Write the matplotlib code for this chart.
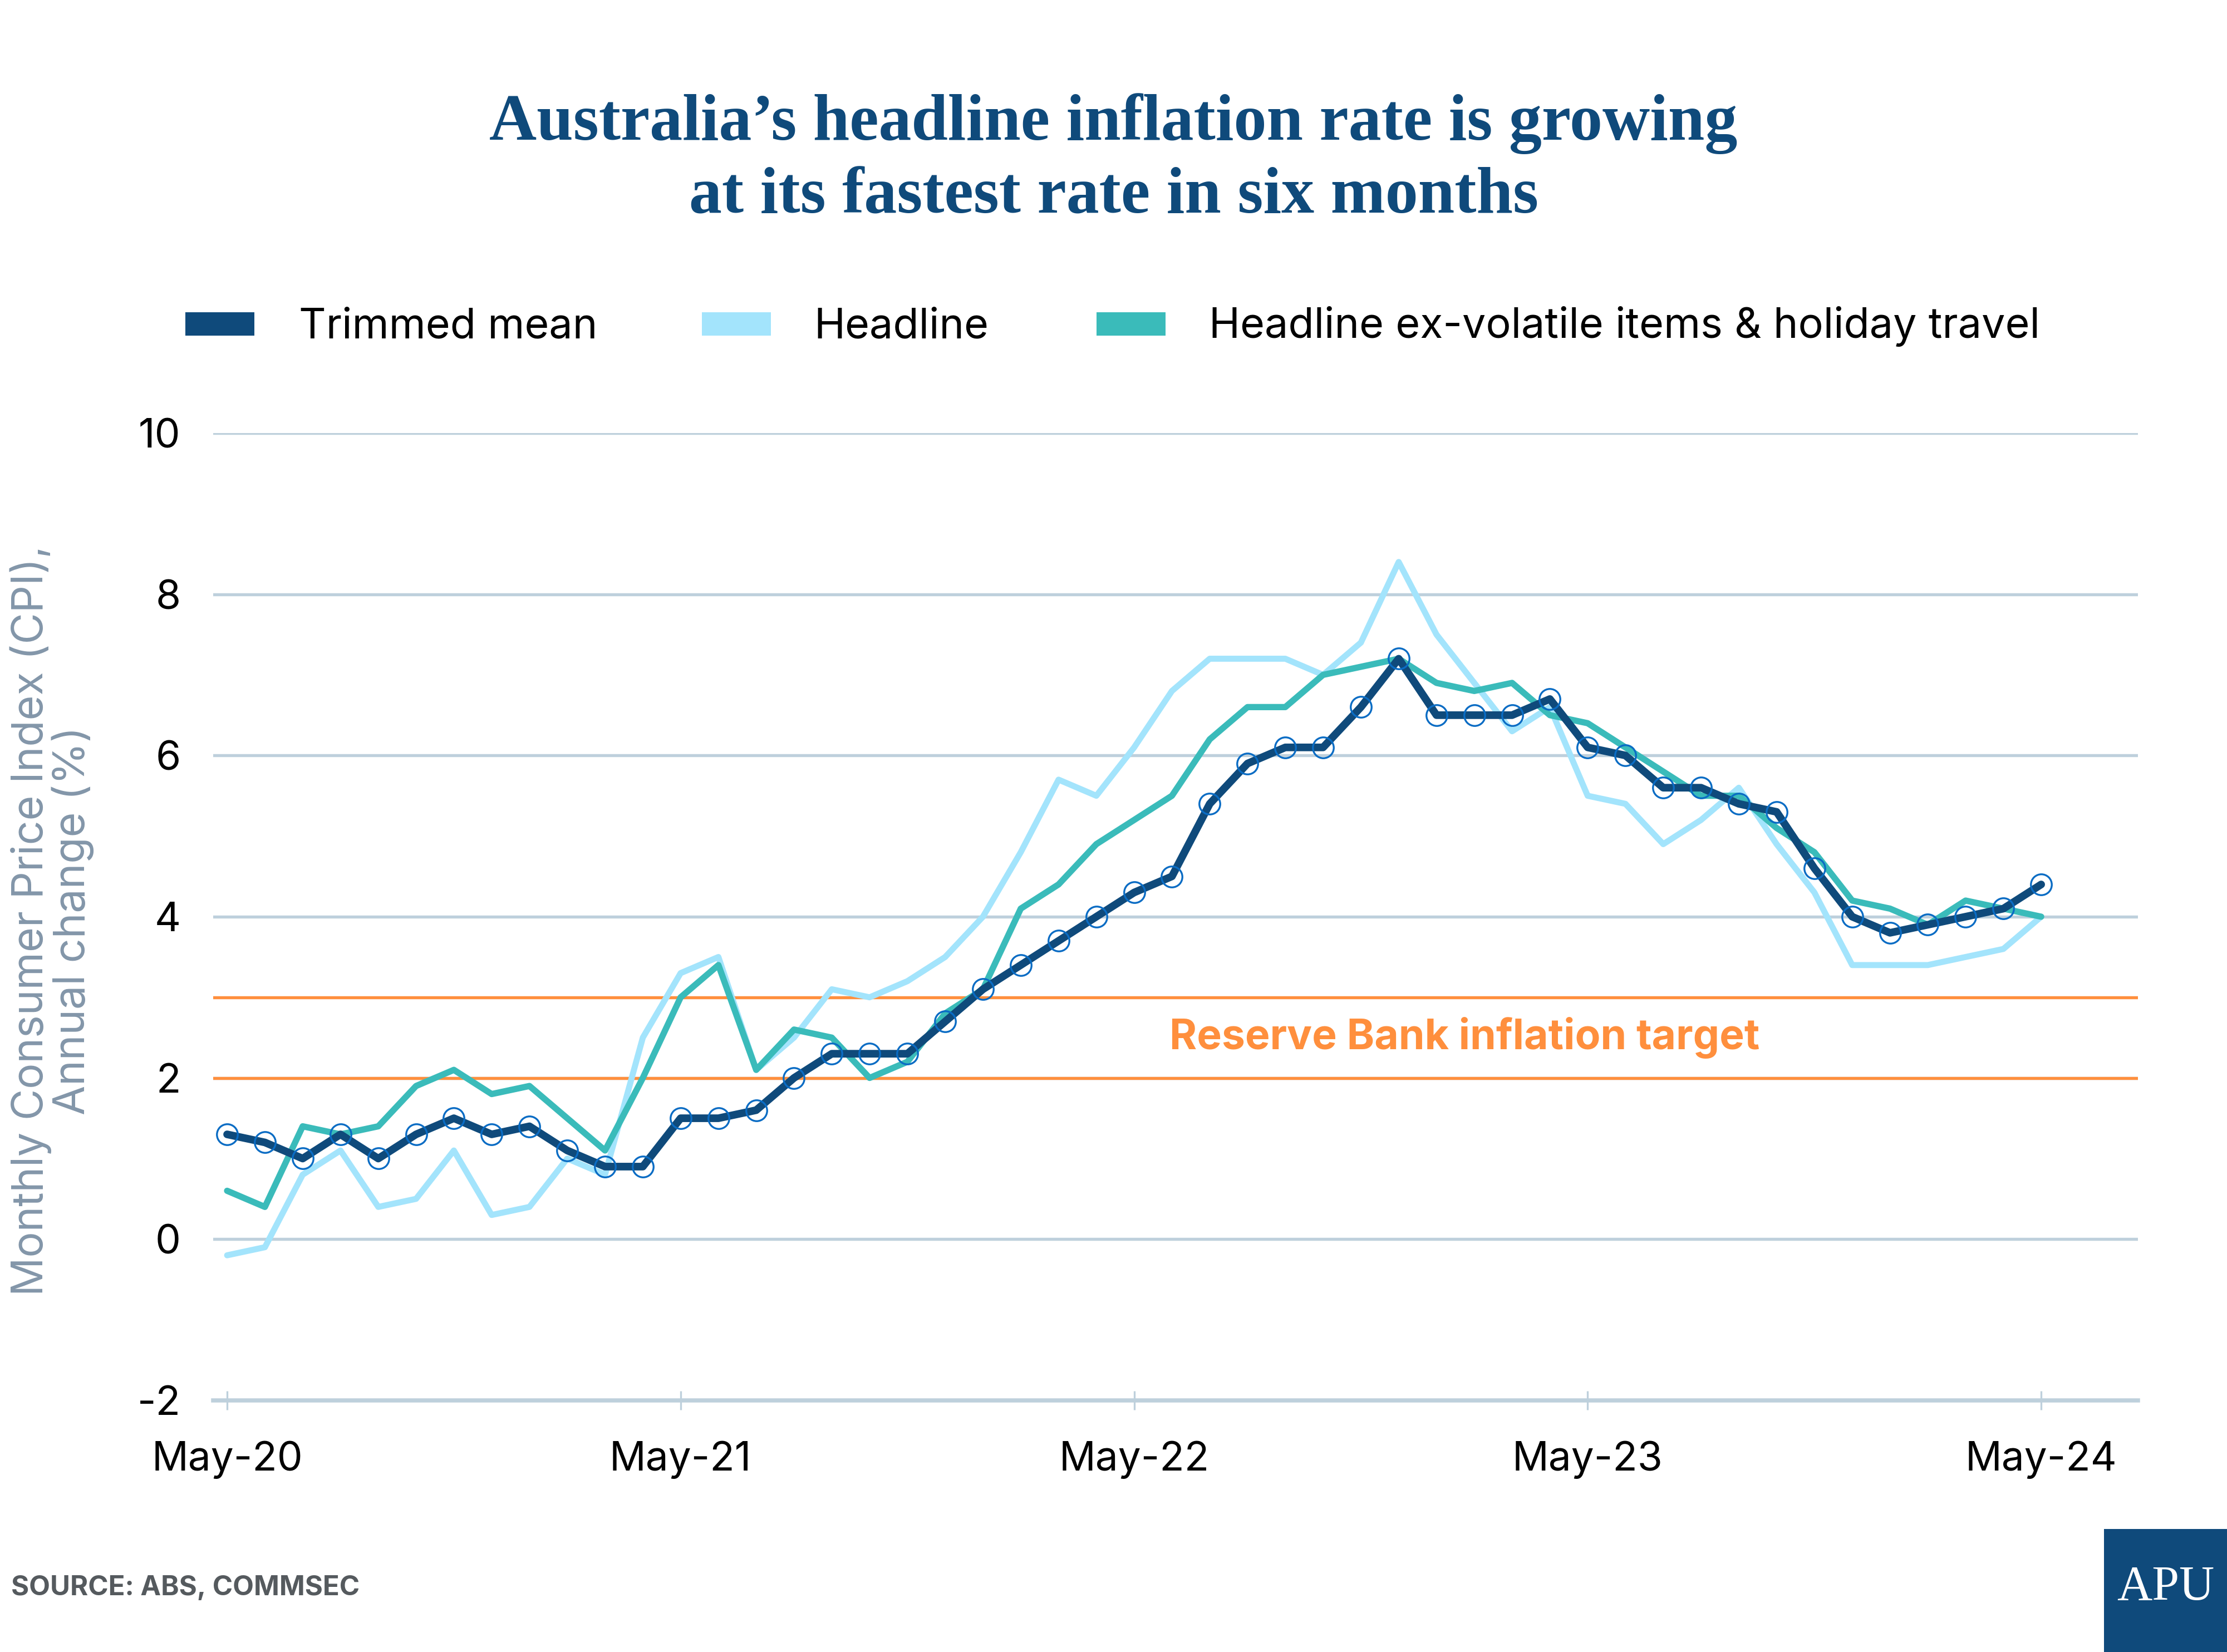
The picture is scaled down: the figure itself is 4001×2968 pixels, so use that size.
import pandas as pd
import matplotlib.pyplot as plt
from matplotlib.patches import Rectangle

# Monthly CPI indicator, annual change (%), May-2020 to May-2024
months = pd.date_range("2020-05-01", periods=49, freq="MS")

trimmed_mean = [1.3, 1.2, 1.0, 1.3, 1.0, 1.3, 1.5, 1.3, 1.4, 1.1, 0.9, 0.9,
                1.5, 1.5, 1.6, 2.0, 2.3, 2.3, 2.3, 2.7, 3.1, 3.4, 3.7, 4.0,
                4.3, 4.5, 5.4, 5.9, 6.1, 6.1, 6.6, 7.2, 6.5, 6.5, 6.5, 6.7,
                6.1, 6.0, 5.6, 5.6, 5.4, 5.3, 4.6, 4.0, 3.8, 3.9, 4.0, 4.1,
                4.4]

headline = [-0.2, -0.1, 0.8, 1.1, 0.4, 0.5, 1.1, 0.3, 0.4, 1.0, 0.8, 2.5,
            3.3, 3.5, 2.1, 2.5, 3.1, 3.0, 3.2, 3.5, 4.0, 4.8, 5.7, 5.5,
            6.1, 6.8, 7.2, 7.2, 7.2, 7.0, 7.4, 8.4, 7.5, 6.9, 6.3, 6.6,
            5.5, 5.4, 4.9, 5.2, 5.6, 4.9, 4.3, 3.4, 3.4, 3.4, 3.5, 3.6,
            4.0]

ex_volatile = [0.6, 0.4, 1.4, 1.3, 1.4, 1.9, 2.1, 1.8, 1.9, 1.5, 1.1, 2.0,
               3.0, 3.4, 2.1, 2.6, 2.5, 2.0, 2.2, 2.8, 3.1, 4.1, 4.4, 4.9,
               5.2, 5.5, 6.2, 6.6, 6.6, 7.0, 7.1, 7.2, 6.9, 6.8, 6.9, 6.5,
               6.4, 6.1, 5.8, 5.5, 5.5, 5.1, 4.8, 4.2, 4.1, 3.9, 4.2, 4.1,
               4.0]

series_names = ["Trimmed mean", "Headline",
                "Headline ex-volatile items & holiday travel"]
target_band = [2, 3]
y_ticks = [-2, 0, 2, 4, 6, 8, 10]
x_tick_idx = [0, 12, 24, 36, 48]

NAVY = "#0f4a7b"
LIGHT = "#a3e4fc"
TEAL = "#3abbba"
MARKER = "#0a6cc4"
GRID = "#bed0dc"
ORANGE = "#ff8f3d"
LABEL_GREY = "#8396a9"

plt.rcParams["font.family"] = ["Inter", "DejaVu Sans"]

fig = plt.figure(figsize=(4001 / 300, 2968 / 300), dpi=300)
ax = fig.add_axes([0.0957, 0.1523, 0.8643, 0.5856])

x = list(range(len(months)))

# gridlines
for v in y_ticks[1:]:
    ax.axhline(v, color=GRID, lw=1.3, zorder=1)
for v in target_band:
    ax.axhline(v, color=ORANGE, lw=1.3, zorder=2)

ax.plot(x, headline, color=LIGHT, lw=2.6, zorder=3,
        solid_capstyle="round", solid_joinstyle="round")
ax.plot(x, ex_volatile, color=TEAL, lw=2.7, zorder=4,
        solid_capstyle="round", solid_joinstyle="round")
ax.plot(x, trimmed_mean, color=NAVY, lw=3.3, zorder=5,
        solid_capstyle="round", solid_joinstyle="round",
        marker="o", markersize=9, markerfacecolor="none",
        markeredgecolor=MARKER, markeredgewidth=0.8)

ax.text(32.74, sum(target_band) / 2, "Reserve Bank inflation target",
        color=ORANGE, fontsize=18, fontweight="bold",
        ha="center", va="center", zorder=6)

ax.set_xlim(-0.37, 50.56)
ax.set_ylim(-2, 10)
ax.set_yticks(y_ticks)
ax.set_yticklabels([str(v) for v in y_ticks])
ax.set_xticks(x_tick_idx)
ax.set_xticklabels([months[i].strftime("%b-%y") for i in x_tick_idx])

for side in ["left", "right", "top"]:
    ax.spines[side].set_visible(False)
ax.spines["bottom"].set_color(GRID)
ax.spines["bottom"].set_linewidth(1.8)
ax.tick_params(axis="y", length=0, pad=14, labelsize=17.5, labelcolor="black")
ax.tick_params(axis="x", direction="inout", length=8, width=0.8, color=GRID,
               pad=13.5, labelsize=17.5, labelcolor="black")

# title
fig.text(0.5, 0.9154, "Australia\u2019s headline inflation rate is growing",
         family="Liberation Serif", fontweight="bold", fontsize=28.3,
         color=NAVY, ha="center", va="baseline")
fig.text(0.5, 0.871, "at its fastest rate in six months",
         family="Liberation Serif", fontweight="bold", fontsize=28.3,
         color=NAVY, ha="center", va="baseline")

# legend
colors = [NAVY, LIGHT, TEAL]
patch_x = [333, 1261, 1970]
text_x = [537, 1462, 2172]
for name, c, px, tx in zip(series_names, colors, patch_x, text_x):
    fig.patches.append(Rectangle((px / 4001, 1 - 603 / 2968), 124 / 4001,
                                 42 / 2968, transform=fig.transFigure,
                                 facecolor=c, edgecolor="none"))
    fig.text(tx / 4001, 1 - 607 / 2968, name, fontsize=18.1, color="black",
             ha="left", va="baseline")

# y label
fig.text(0.0233, 0.4427,
         "Monthly Consumer Price Index (CPI),\nAnnual change (%)",
         rotation=90, ha="center", va="center", multialignment="center",
         fontsize=18.5, color=LABEL_GREY, linespacing=1.0)

# source and logo
fig.text(20 / 4001, 1 - 2866 / 2968, "SOURCE: ABS, COMMSEC", fontsize=11.8,
         fontweight="bold", color="#555a5e", ha="left", va="baseline")
fig.patches.append(Rectangle((3780 / 4001, 0), 1 - 3780 / 4001, 0.0745,
                             transform=fig.transFigure, facecolor=NAVY,
                             edgecolor="none"))
fig.text((3780 / 4001 + 1) / 2, 0.039, "APU", family="Liberation Serif",
         fontsize=21, color="white", ha="center", va="center")

fig.savefig("out.png", dpi=300, facecolor="white")
